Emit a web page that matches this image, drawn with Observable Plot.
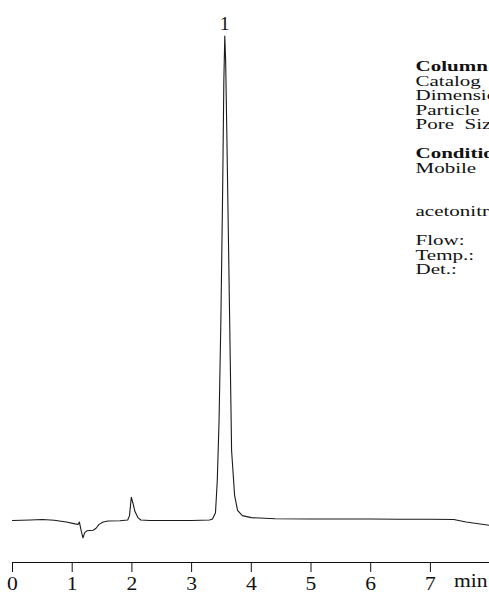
<!DOCTYPE html>
<html>
<head>
<meta charset="utf-8">
<script src="https://cdn.jsdelivr.net/npm/d3@7"></script>
<script src="https://cdn.jsdelivr.net/npm/@observablehq/plot@0.6"></script>
<style>
  html, body { margin: 0; padding: 0; background: #fff; overflow: hidden; }
  #chart svg { display: block; overflow: hidden; }
</style>
</head>
<body>
<div id="chart"></div>
<script>
// Retention time (min) and detector signal (arbitrary units, apex = 100)
const times = [
  0.00, 0.30, 0.50, 0.70, 0.90, 1.05, 1.10, 1.12, 1.15, 1.18, 1.21, 1.25, 1.35, 1.40, 1.45, 1.52, 1.60, 1.80,
  1.93, 1.96, 1.99, 2.02, 2.05, 2.10, 2.15, 2.30, 3.00, 3.30, 3.35, 3.40, 3.43, 3.46, 3.49, 3.52, 3.54, 3.556,
  3.57, 3.59, 3.62, 3.65, 3.67, 3.72, 3.77, 3.85, 4.00, 4.40, 5.00, 6.00, 6.50, 7.00, 7.39, 7.60, 7.99
];
const signal = [
  0.0, 0.1, 0.2, 0.05, -0.3, -0.7, -0.8, -0.3, -2.1, -3.6, -2.5, -2.1, -2.0, -1.6, -0.8, -0.3, -0.1, -0.05,
  0.1, 1.0, 4.8, 3.5, 1.9, 0.6, 0.1, 0.0, 0.0, 0.1, 0.3, 1.6, 8.2, 20.6, 41, 68, 90.7, 100,
  95, 80, 55.7, 31, 14.4, 5.2, 2.1, 1.0, 0.6, 0.35, 0.3, 0.3, 0.27, 0.27, 0.2, -0.3, -1.0
];
const xTicks = [0, 1, 2, 3, 4, 5, 6, 7];
const axisUnit = ["min"];
const peakNames = ["1"];
const peakTimes = [3.556];
const peakSignals = [100];
const headerLines = ["Column", "", "", "", "", "", "Conditions"];
const bodyLines = ["", "Catalog", "Dimensions", "Particle", "Pore  Size", "", "",
  "Mobile", "", "", "acetonitrile", "", "Flow:", "Temp.:", "Det.:"];

const trace = times.map((t, i) => ({t, s: signal[i]}));
const peaks = peakNames.map((n, i) => ({n, t: peakTimes[i], s: peakSignals[i]}));

const serif = "'Liberation Serif', 'Times New Roman', serif";

const chart = Plot.plot({
  width: 489,
  height: 594,
  marginLeft: 12,
  marginRight: 0,
  marginTop: 0,
  marginBottom: 32,
  style: {fontFamily: serif, fontSize: "18px", color: "#111", background: "#fff"},
  x: {domain: [0, 7.99], ticks: xTicks, tickSize: 10, tickPadding: 5, line: true, label: null, tickFormat: d => String(d)},
  y: {domain: [-8.669, 107.33], axis: null},
  marks: [
    Plot.line(trace, {x: "t", y: "s", stroke: "#1a1a1a", strokeWidth: 1.1}),
    Plot.text(peaks, {x: "t", y: "s", text: "n", dy: -12, fontSize: 18, fontFamily: serif, fill: "#111"}),
    Plot.text(axisUnit, {text: d => d, frameAnchor: "bottom-right", textAnchor: "end", dx: -2, dy: 24, fontSize: 18, fontFamily: serif, fill: "#111"}),
    Plot.text([headerLines.join("\n")], {text: d => d, frameAnchor: "top-left", textAnchor: "start", lineAnchor: "top", dx: 403, dy: 60.7, lineHeight: 1.0, fontSize: 14.5, fontWeight: "bold", fontFamily: serif, fill: "#111"}),
    Plot.text([bodyLines.join("\n")], {text: d => d, frameAnchor: "top-left", textAnchor: "start", lineAnchor: "top", dx: 403, dy: 60.7, lineHeight: 1.0, fontSize: 14.5, fontFamily: serif, fill: "#111"})
  ]
});

// The reference typesetting is horizontally wide; stretch glyphs about each text's own anchor.
function stretch(elements, k) {
  elements.forEach(el => {
    const t = el.getAttribute("transform") || "";
    const xa = el.getAttribute("x");
    const x = xa && /^-?[\d.]+$/.test(xa) ? +xa : 0;
    el.setAttribute("transform", `${t} translate(${x},0) scale(${k},1) translate(${-x},0)`);
  });
}
const textGroups = chart.querySelectorAll('g[aria-label="text"]');
// order: peak label, unit, header block, body block
stretch(textGroups[0].querySelectorAll("text"), 1.1);
stretch(textGroups[1].querySelectorAll("text"), 1.2);
stretch(textGroups[2].querySelectorAll("text"), 1.45);
stretch(textGroups[3].querySelectorAll("text"), 1.45);
stretch(chart.querySelectorAll('g[aria-label="x-axis tick label"] text'), 1.2);

document.getElementById("chart").appendChild(chart);
</script>
</body>
</html>
